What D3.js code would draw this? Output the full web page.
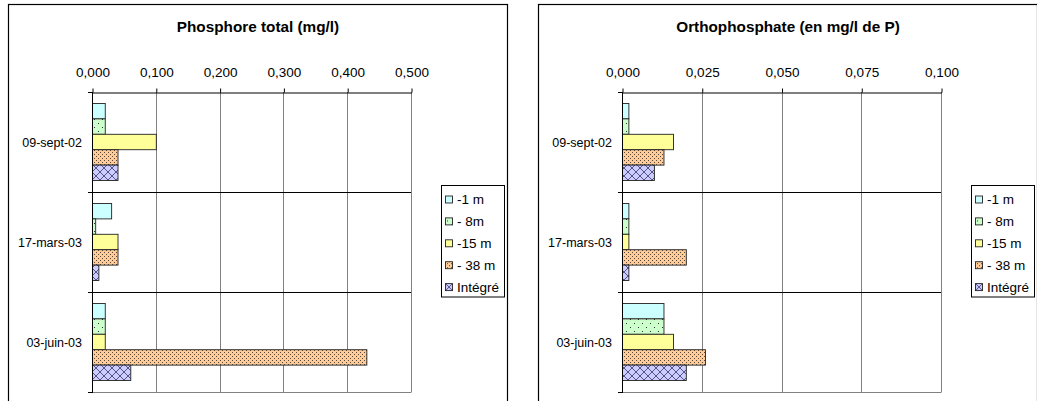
<!DOCTYPE html>
<html>
<head>
<meta charset="utf-8">
<script src="https://cdn.jsdelivr.net/npm/d3@7"></script>
<style>
  html, body { margin: 0; padding: 0; background: #fff; }
  svg { display: block; font-family: "Liberation Sans", Arial, sans-serif; }
</style>
</head>
<body>
<svg id="chart" width="1037" height="401"></svg>
<script>
// ---- Data ----
const categories = ["09-sept-02", "17-mars-03", "03-juin-03"];
const seriesNames = ["-1 m", "- 8m", "-15 m", "- 38 m", "Intégré"];

// Phosphore total (mg/l), one array per series, in category order
const ptot_1m   = [0.020, 0.030, 0.020];
const ptot_8m   = [0.020, 0.005, 0.020];
const ptot_15m  = [0.100, 0.040, 0.020];
const ptot_38m  = [0.040, 0.040, 0.430];
const ptot_int  = [0.040, 0.010, 0.060];

// Orthophosphate (en mg/l de P)
const orth_1m   = [0.002, 0.002, 0.013];
const orth_8m   = [0.002, 0.002, 0.013];
const orth_15m  = [0.016, 0.002, 0.016];
const orth_38m  = [0.013, 0.020, 0.026];
const orth_int  = [0.010, 0.002, 0.020];

const ptotTicks = [0, 0.1, 0.2, 0.3, 0.4, 0.5];
const orthTicks = [0, 0.025, 0.05, 0.075, 0.1];

const charts = [
  { title: "Phosphore total (mg/l)", series: [ptot_1m, ptot_8m, ptot_15m, ptot_38m, ptot_int], ticks: ptotTicks, max: 0.5 },
  { title: "Orthophosphate (en mg/l de P)", series: [orth_1m, orth_8m, orth_15m, orth_38m, orth_int], ticks: orthTicks, max: 0.1 }
];

// ---- Rendering ----
const svg = d3.select("#chart");
const defs = svg.append("defs");

function solid(id, color) {
  const p = defs.append("pattern").attr("id", id).attr("patternUnits", "userSpaceOnUse")
    .attr("width", 4).attr("height", 4);
  p.append("rect").attr("width", 4).attr("height", 4).attr("fill", color);
}
solid("p0", "#CCFFFF");
{
  const p = defs.append("pattern").attr("id", "p1").attr("patternUnits", "userSpaceOnUse")
    .attr("width", 8).attr("height", 8);
  p.append("rect").attr("width", 8).attr("height", 8).attr("fill", "#CCFFCC");
  p.append("rect").attr("x", 2).attr("y", 3).attr("width", 1).attr("height", 1).attr("fill", "#333");
  p.append("rect").attr("x", 6).attr("y", 7).attr("width", 1).attr("height", 1).attr("fill", "#333");
}
solid("p2", "#FFFF99");
{
  const p = defs.append("pattern").attr("id", "p3").attr("patternUnits", "userSpaceOnUse")
    .attr("width", 4).attr("height", 4);
  p.append("rect").attr("width", 4).attr("height", 4).attr("fill", "#FFCC99");
  p.append("rect").attr("x", 0).attr("y", 0).attr("width", 1).attr("height", 1).attr("fill", "#5a4a3c");
  p.append("rect").attr("x", 2).attr("y", 2).attr("width", 1).attr("height", 1).attr("fill", "#5a4a3c");
}
{
  const p = defs.append("pattern").attr("id", "p4").attr("patternUnits", "userSpaceOnUse")
    .attr("width", 8).attr("height", 8);
  p.append("rect").attr("width", 8).attr("height", 8).attr("fill", "#CCCCFF");
  p.append("path").attr("d", "M0,0 L8,8 M0,8 L8,0 M-1,7 L1,9 M7,-1 L9,1")
    .attr("stroke", "#333366").attr("stroke-width", 0.8).attr("fill", "none");
}
const fills = ["url(#p0)", "url(#p1)", "url(#p2)", "url(#p3)", "url(#p4)"];

const fmt = d3.formatLocale({ decimal: ",", thousands: " ", grouping: [3], currency: ["", "€"] }).format(".3f");

charts.forEach((c, ci) => {
  const L = 8 + ci * 530;
  const g = svg.append("g");

  g.append("rect").attr("x", L + 0.5).attr("y", 4.5).attr("width", 499).attr("height", 420)
    .attr("fill", "#fff").attr("stroke", "#000").attr("stroke-width", 1.2);

  g.append("text").attr("x", L + 250).attr("y", 31.5).attr("text-anchor", "middle")
    .attr("font-size", "15.3px").attr("font-weight", "bold").text(c.title);

  const pl = L + 84, pr = L + 403, pt = 92, pb = 392;
  const x = d3.scaleLinear().domain([0, c.max]).range([pl, pr]);
  const y0 = d3.scaleBand().domain(categories).range([pt, pb]);
  const y1 = d3.scaleBand().domain(seriesNames).range([0, y0.bandwidth()]).paddingInner(0).paddingOuter(0.745);

  g.append("g").selectAll("line").data(c.ticks.slice(1)).join("line")
    .attr("x1", d => Math.round(x(d)) + 0.5).attr("x2", d => Math.round(x(d)) + 0.5)
    .attr("y1", pt).attr("y2", pb).attr("stroke", "#808080").attr("stroke-width", 1);
  g.append("line").attr("x1", pl).attr("x2", pr + 0.5).attr("y1", pb + 0.5).attr("y2", pb + 0.5)
    .attr("stroke", "#808080");
  g.append("g").selectAll("line").data(categories.slice(1)).join("line")
    .attr("x1", pl).attr("x2", pr).attr("y1", d => Math.round(y0(d)) + 0.5).attr("y2", d => Math.round(y0(d)) + 0.5)
    .attr("stroke", "#000");

  c.series.forEach((vals, si) => {
    g.append("g").selectAll("rect").data(vals).join("rect")
      .attr("x", pl + 0.5)
      .attr("y", (d, i) => y0(categories[i]) + y1(seriesNames[si]))
      .attr("width", d => Math.max(0, x(d) - pl))
      .attr("height", y1.bandwidth())
      .attr("fill", fills[si]).attr("stroke", "#222").attr("stroke-width", 0.9);
  });

  const ax = g.append("g").attr("transform", `translate(0.5,${pt + 0.5})`)
    .call(d3.axisTop(x).tickValues(c.ticks).tickFormat(fmt).tickSize(4).tickSizeOuter(0).tickPadding(12));
  ax.select(".domain").attr("stroke", "#000");
  ax.selectAll(".tick line").attr("stroke", "#000");
  ax.selectAll("text").attr("font-size", "13.5px").attr("fill", "#000")
    .attr("font-family", "'Liberation Sans', Arial, sans-serif");

  const edges = categories.map(d => y0(d)).concat([pb]);
  g.append("line").attr("x1", pl + 0.5).attr("x2", pl + 0.5).attr("y1", pt).attr("y2", pb + 1).attr("stroke", "#000");
  g.append("g").selectAll("line").data(edges).join("line")
    .attr("x1", pl - 4).attr("x2", pl).attr("y1", d => Math.round(d) + 0.5).attr("y2", d => Math.round(d) + 0.5)
    .attr("stroke", "#000");
  g.append("g").selectAll("text").data(categories).join("text")
    .attr("x", pl - 10).attr("y", d => y0(d) + y0.bandwidth() / 2 + 4.5)
    .attr("text-anchor", "end").attr("font-size", "12.5px").text(d => d);

  const lx = L + 433, ly = 185.5, lw = 63, lh = 111.5;
  const lg = g.append("g");
  lg.append("rect").attr("x", lx + 0.5).attr("y", ly).attr("width", lw).attr("height", lh)
    .attr("fill", "#fff").attr("stroke", "#000").attr("stroke-width", 1);
  const items = lg.selectAll("g").data(seriesNames).join("g")
    .attr("transform", (d, i) => `translate(${lx},${ly + 14 + i * 21.9})`);
  items.append("rect").attr("x", 4.5).attr("y", -3.5).attr("width", 7).attr("height", 7)
    .attr("fill", (d, i) => fills[i]).attr("stroke", "#222").attr("stroke-width", 0.9);
  items.append("text").attr("x", 16).attr("y", 4.8).attr("font-size", "13.5px").text(d => d);
});
</script>
</body>
</html>
